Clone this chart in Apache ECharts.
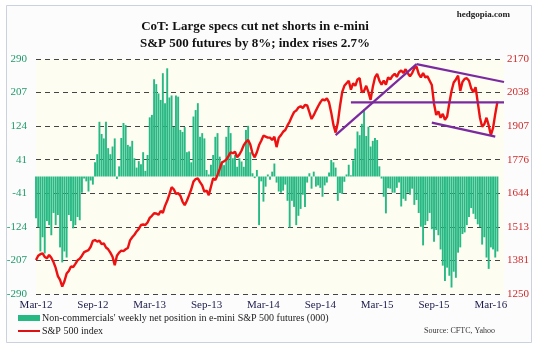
<!DOCTYPE html>
<html>
<head>
<meta charset="utf-8">
<script src="https://cdn.jsdelivr.net/npm/echarts@6/dist/echarts.min.js"></script>
<style>html,body{margin:0;padding:0;background:#fff}#c{width:540px;height:352px}</style>
</head>
<body>
<div id="c"></div>
<script>
// ---- data ----
var startDate = '2012-03-06';
var nCategories = 215;
var xTickLabels = ['Mar-12','Sep-12','Mar-13','Sep-13','Mar-14','Sep-14','Mar-15','Sep-15','Mar-16'];
var leftTickLabels = ['-290','-207','-124','-41','41','124','207','290'];
var rightTickLabels = ['1250','1381','1513','1644','1776','1907','2038','2170'];

var netPosition = [
-103,-125,-185,-150,-190,-110,-120,-145,-90,-120,
-95,-175,-212,-185,-200,-95,-110,-128,-120,-100,
-108,-40,-5,-12,-37,-10,-20,35,55,135,
105,94,135,70,55,74,94,-6,25,95,
132,127,78,74,88,45,22,38,30,60,
14,53,146,152,240,228,205,189,255,181,
267,195,200,122,200,197,115,110,122,60,
62,35,148,164,181,98,107,94,16,5,
29,53,98,107,49,37,28,98,123,107,
45,53,24,45,37,24,115,125,60,8,
-4,16,-120,-12,-62,-25,5,-8,12,32,
-15,-37,-40,-35,-20,-60,-126,-60,-75,-120,
-97,-80,-45,-75,-15,8,-30,12,-25,-22,
-28,-50,-22,-15,10,41,35,22,-60,-41,
-43,-13,5,29,3,40,69,111,102,130,
165,100,123,74,88,95,90,25,-5,-50,
-91,-29,-30,-40,-40,-28,-15,-74,-55,-60,
-40,-45,-30,-70,-58,-90,-124,-170,-120,-110,
-90,-130,-161,-132,-145,-180,-220,-258,-225,-245,
-274,-235,-250,-188,-175,-142,-138,-120,-100,-78,
-92,-105,-118,-125,-168,-150,-200,-228,-175,-180,
-200,-185
];

var spIndex = [
1383,1400,1406,1409,1395,1390,1403,1392,1375,1352,
1320,1305,1279,1300,1330,1340,1358,1355,1368,1382,
1388,1400,1414,1418,1422,1435,1458,1461,1455,1459,
1445,1448,1432,1425,1412,1396,1363,1400,1412,1420,
1418,1425,1430,1460,1472,1482,1495,1505,1520,1522,
1520,1530,1548,1556,1566,1565,1560,1575,1568,1595,
1615,1640,1668,1660,1642,1645,1635,1612,1598,1615,
1637,1660,1690,1700,1703,1688,1675,1650,1655,1637,
1670,1703,1696,1716,1740,1765,1770,1776,1790,1805,
1801,1807,1785,1796,1812,1833,1845,1853,1835,1800,
1785,1805,1833,1850,1870,1866,1862,1862,1853,1866,
1825,1862,1872,1885,1892,1910,1925,1945,1962,1968,
1980,1985,1978,1990,1988,1962,1935,1950,1968,1985,
2000,2012,2008,2016,2000,1960,1912,1882,1920,1985,
2040,2065,2075,2085,2050,2075,2065,2090,2095,2040,
2045,2065,2040,2010,2060,2098,2112,2085,2070,2085,
2070,2098,2090,2104,2112,2100,2118,2125,2115,2130,
2114,2102,2115,2134,2140,2112,2098,2115,2098,2102,
2085,2068,1995,1951,1965,1940,1955,1932,1945,1998,
2045,2078,2090,2105,2045,2080,2092,2095,2085,2055,
2040,2060,2000,1940,1905,1915,1940,1910,1872,1900,
1955,2003
];

// trend lines drawn by the author, in data units: [fromWeek, fromValue, toWeek, toValue]
var trendLines = [
  [137, 1872, 174, 2150],
  [144, 2000, 214, 2000],
  [174, 2150, 214, 2080],
  [181, 1921, 210, 1866]
];

// ---- build ----
var categories = [];
(function(){
  var d = new Date(startDate + 'T00:00:00Z');
  for (var i = 0; i < nCategories; i++) {
    var t = new Date(d.getTime() + i * 7 * 86400000);
    categories.push(t.toISOString().slice(0,10));
  }
})();

var serif = '"Liberation Serif", "DejaVu Serif", serif';
var trendSeries = trendLines.map(function(t){
  return {
    type: 'line', yAxisIndex: 1, data: [[t[0], t[1]], [t[2], t[3]]],
    symbol: 'none', silent: true, z: 5,
    lineStyle: {color: '#7a2a9e', width: 2.2}
  };
});

var chart = echarts.init(document.getElementById('c'), null, {renderer: 'canvas'});
chart.setOption({
  animation: false,
  backgroundColor: '#ffffff',
  graphic: [
    {type: 'rect', shape: {x: 6.5, y: 5.5, width: 525, height: 337}, style: {fill: '#fcfcfc', stroke: '#c9d2de', lineWidth: 1}, z: -10, silent: true},
    {type: 'text', x: 255, y: 18, style: {text: 'CoT: Large specs cut net shorts in e-mini\nS&P 500 futures by 8%; index rises 2.7%', font: 'bold 13px ' + serif, fill: '#111', textAlign: 'center', lineHeight: 17}},
    {type: 'text', x: 510, y: 10, style: {text: 'hedgopia.com', font: 'bold 9px ' + serif, fill: '#222', textAlign: 'right'}},
    {type: 'text', x: 495, y: 327, style: {text: 'Source: CFTC, Yahoo', font: '8px ' + serif, fill: '#333', textAlign: 'right'}}
  ],
  grid: {left: 36, right: 36, top: 59, bottom: 58, show: true, backgroundColor: '#fdfdf2', borderWidth: 0},
  legend: [
    {data: ['Non-commercials\' weekly net position in e-mini S&P 500 futures (000)'], left: 18, top: 313,
     itemWidth: 22, itemHeight: 6, itemGap: 2, icon: 'rect', padding: 0,
     textStyle: {fontFamily: serif, fontSize: 10, color: '#222', padding: [0,0,0,-3]}},
    {data: ['S&P 500 index'], left: 18, top: 326,
     itemWidth: 22, itemHeight: 2, icon: 'rect', padding: 0,
     textStyle: {fontFamily: serif, fontSize: 10, color: '#222', padding: [0,0,0,-3]}}
  ],
  xAxis: {
    type: 'category', data: categories, boundaryGap: false,
    axisLine: {show: false}, axisTick: {show: false},
    axisLabel: {interval: 25, margin: 6, fontFamily: serif, fontSize: 11, color: '#1c1c4e',
      formatter: function(v, idx){ return idx % 26 === 0 ? (xTickLabels[idx / 26] || '') : ''; }},
    splitLine: {show: false}
  },
  yAxis: [
    {type: 'value', min: -290, max: 290, interval: 580 / 7, position: 'left',
     axisLine: {show: false}, axisTick: {show: false},
     axisLabel: {margin: 9, fontFamily: serif, fontSize: 11, color: '#1f9a6a',
       formatter: function(v, idx){ return leftTickLabels[idx]; }},
     splitLine: {show: true, lineStyle: {color: '#444', type: [5, 4], width: 1}}},
    {type: 'value', min: 1250, max: 2170, interval: 920 / 7, position: 'right',
     axisLine: {show: false}, axisTick: {show: false},
     axisLabel: {margin: 3, fontFamily: serif, fontSize: 11, color: '#d02a2a',
       formatter: function(v, idx){ return rightTickLabels[idx]; }},
     splitLine: {show: false}}
  ],
  series: [
    {name: 'Non-commercials\' weekly net position in e-mini S&P 500 futures (000)', type: 'bar',
     data: netPosition, yAxisIndex: 0, barWidth: 1.9,
     itemStyle: {color: '#27b983'}, z: 2},
    {name: 'S&P 500 index', type: 'line', data: spIndex, yAxisIndex: 1,
     symbol: 'none', lineStyle: {color: '#ee1111', width: 2.4}, itemStyle: {color: '#dd1111'}, z: 4}
  ].concat(trendSeries)
});
</script>
</body>
</html>
